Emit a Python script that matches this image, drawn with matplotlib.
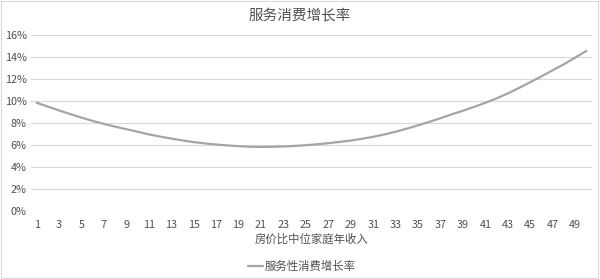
import matplotlib
matplotlib.use("Agg")
import matplotlib.pyplot as plt
from matplotlib.ticker import FuncFormatter
from matplotlib.patches import Rectangle

plt.rcParams['font.family'] = ['Noto Sans CJK SC', 'DejaVu Sans']

# Housing price / median household income ratio
ratio = list(range(1, 51))
# Service consumption growth rate (%)
growth = [9.85, 9.50, 9.15, 8.82, 8.50, 8.20, 7.93, 7.68, 7.45, 7.22,
          6.98, 6.78, 6.60, 6.43, 6.28, 6.16, 6.06, 5.98, 5.91, 5.86,
          5.84, 5.85, 5.88, 5.93, 6.00, 6.08, 6.18, 6.30, 6.42, 6.58,
          6.76, 6.98, 7.22, 7.50, 7.80, 8.12, 8.45, 8.80, 9.13, 9.48,
          9.85, 10.25, 10.70, 11.20, 11.72, 12.25, 12.80, 13.35, 13.95, 14.55]
tick_labels = [str(v) for v in ratio[::2]]

title = "服务消费增长率"
xlabel = "房价比中位家庭年收入"
series_name = "服务性消费增长率"

text_color = "#505050"
grid_color = "#D9D9D9"
line_color = "#A5A5A5"

fig = plt.figure(figsize=(6.0, 2.79), dpi=100)
fig.patches.append(Rectangle((0.002, 0.002), 0.995, 0.995, transform=fig.transFigure,
                             fill=False, edgecolor=grid_color, linewidth=0.8))
ax = fig.add_axes([0.0517, 0.2427, 0.935, 0.6319])

ax.plot(ratio, [g / 100 for g in growth], color=line_color, linewidth=1.6,
        label=series_name, solid_capstyle="round")

ax.set_xlim(0.5, 50.5)
ax.set_ylim(0, 0.16)
ax.set_yticks([i / 100 for i in range(0, 17, 2)])
ax.yaxis.set_major_formatter(FuncFormatter(lambda v, p: f"{v * 100:.0f}%"))
ax.set_xticks(ratio[::2])
ax.set_xticklabels(tick_labels)

ax.grid(axis="y", color=grid_color, linewidth=0.8)
ax.set_axisbelow(True)
for s in ax.spines.values():
    s.set_visible(False)
ax.tick_params(length=0, labelsize=7.8, colors=text_color)
ax.tick_params(axis="x", pad=6)
ax.tick_params(axis="y", pad=3)

ax.set_xlabel(xlabel, fontsize=8.2, color=text_color, labelpad=3)
fig.text(0.5, 0.945, title, ha="center", va="center", fontsize=10.5, color=text_color)

fig.legend(loc="center", bbox_to_anchor=(0.503, 0.047), frameon=False,
           handlelength=1.3, handletextpad=0.1, fontsize=8.2, labelcolor=text_color)

fig.savefig("out.png", dpi=100)
